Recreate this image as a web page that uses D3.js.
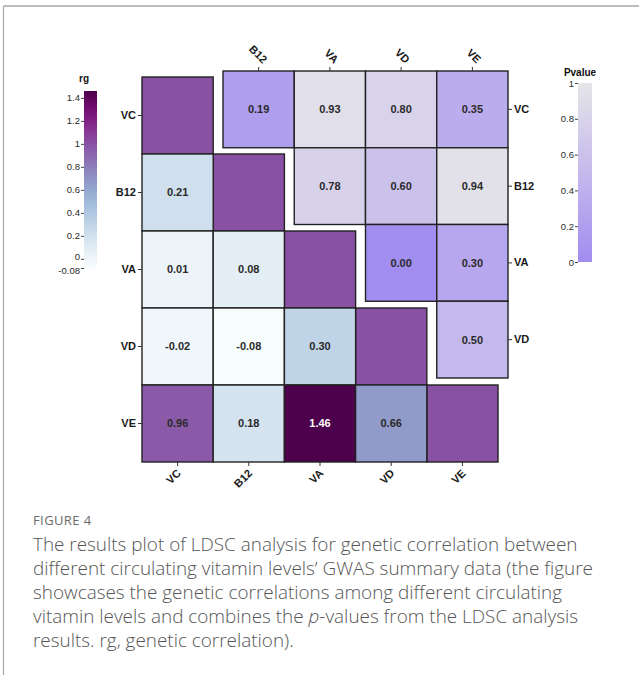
<!DOCTYPE html>
<html>
<head>
<meta charset="utf-8">
<script src="https://cdn.jsdelivr.net/npm/d3@7/dist/d3.min.js"></script>
<style>
  html, body { margin: 0; padding: 0; background: #fff; }
  svg { display: block; }
</style>
</head>
<body>
<svg id="fig" width="639" height="675"></svg>
<script>
// Traits compared in the LDSC analysis
const vitamins = ["VC", "B12", "VA", "VD", "VE"];

// Lower triangle: genetic correlation (rg), [row, column, value]
const rgPairs = [
  ["B12", "VC", 0.21],
  ["VA", "VC", 0.01], ["VA", "B12", 0.08],
  ["VD", "VC", -0.02], ["VD", "B12", -0.08], ["VD", "VA", 0.30],
  ["VE", "VC", 0.96], ["VE", "B12", 0.18], ["VE", "VA", 1.46], ["VE", "VD", 0.66]
];
// Diagonal: self-correlation, unlabeled
const rgDiagonal = 1;

// Upper triangle: LDSC p-values, [row, column, value]
const pPairs = [
  ["VC", "B12", 0.19], ["VC", "VA", 0.93], ["VC", "VD", 0.80], ["VC", "VE", 0.35],
  ["B12", "VA", 0.78], ["B12", "VD", 0.60], ["B12", "VE", 0.94],
  ["VA", "VD", 0.00], ["VA", "VE", 0.30],
  ["VD", "VE", 0.50]
];

// Legend ticks
const rgTicks = [-0.08, 0, 0.2, 0.4, 0.6, 0.8, 1, 1.2, 1.4];
const pTicks = [0, 0.2, 0.4, 0.6, 0.8, 1];

const caption = [
  "The results plot of LDSC analysis for genetic correlation between",
  "different circulating vitamin levels\u2019 GWAS summary data (the figure",
  "showcases the genetic correlations among different circulating",
  ["vitamin levels and combines the ", {i: "p"}, "-values from the LDSC analysis"],
  "results. rg, genetic correlation)."
];

const svg = d3.select("#fig");
const FONT = "'Liberation Sans', Arial, Helvetica, sans-serif";

// Page frame
svg.append("line").attr("x1", 3.5).attr("x2", 639).attr("y1", 6).attr("y2", 6)
  .attr("stroke", "#a8a8a8").attr("stroke-width", 1.5);
svg.append("line").attr("x1", 3.5).attr("x2", 3.5).attr("y1", 6).attr("y2", 675)
  .attr("stroke", "#a8a8a8").attr("stroke-width", 1.2);

// Colour scales
const rgDomain = [-0.08, 1.46];
const rgColor = d3.scaleSequential(d3.interpolateBuPu).domain(rgDomain);
const pColor = d3.scaleLinear().domain([0, 1]).range(["#a28df0", "#e6e5e8"]);

// Positional scales
const xL = d3.scaleBand().domain(vitamins).range([142, 498]);
const yL = d3.scaleBand().domain(vitamins).range([77, 462]);
const xU = d3.scaleBand().domain(vitamins.slice(1)).range([223, 508]);
const yU = d3.scaleBand().domain(vitamins.slice(0, 4)).range([71, 378]);

const cellStroke = "#222";
// two decimals, plain hyphen for negatives
const labelFmt = v => d3.format(".2f")(v).replace("\u2212", "-");

// Lower triangle cells
const lowerCells = vitamins.map(v => ({row: v, col: v, value: rgDiagonal, diag: true}))
  .concat(rgPairs.map(([row, col, value]) => ({row, col, value, diag: false})));

const gL = svg.append("g");
gL.selectAll("rect").data(lowerCells).join("rect")
  .attr("x", d => xL(d.col)).attr("y", d => yL(d.row))
  .attr("width", xL.bandwidth()).attr("height", yL.bandwidth())
  .attr("fill", d => rgColor(d.value))
  .attr("stroke", cellStroke).attr("stroke-width", 1.4);
gL.selectAll("text").data(lowerCells.filter(d => !d.diag)).join("text")
  .attr("x", d => xL(d.col) + xL.bandwidth() / 2)
  .attr("y", d => yL(d.row) + yL.bandwidth() / 2)
  .attr("dy", "0.36em").attr("text-anchor", "middle")
  .attr("font-family", FONT).attr("font-weight", "bold").attr("font-size", 11)
  .attr("fill", d => d.value > 1.2 ? "#ffffff" : "#2a2a2a")
  .text(d => labelFmt(d.value));

// Upper triangle cells
const upperCells = pPairs.map(([row, col, value]) => ({row, col, value}));
const gU = svg.append("g");
gU.selectAll("rect").data(upperCells).join("rect")
  .attr("x", d => xU(d.col)).attr("y", d => yU(d.row))
  .attr("width", xU.bandwidth()).attr("height", yU.bandwidth())
  .attr("fill", d => pColor(d.value))
  .attr("stroke", cellStroke).attr("stroke-width", 1.4);
gU.selectAll("text").data(upperCells).join("text")
  .attr("x", d => xU(d.col) + xU.bandwidth() / 2)
  .attr("y", d => yU(d.row) + yU.bandwidth() / 2)
  .attr("dy", "0.36em").attr("text-anchor", "middle")
  .attr("font-family", FONT).attr("font-weight", "bold").attr("font-size", 11)
  .attr("fill", "#2a2a2a")
  .text(d => labelFmt(d.value));

// Axes
function styleAxis(g) {
  g.select(".domain").remove();
  g.selectAll(".tick line").attr("stroke", "#333");
  g.selectAll(".tick text").attr("font-family", FONT).attr("font-weight", "bold")
    .attr("font-size", 11).attr("fill", "#1a1a1a");
}

svg.append("g").attr("transform", "translate(142,0)")
  .call(d3.axisLeft(yL).tickSize(4).tickPadding(2)).call(styleAxis);

svg.append("g").attr("transform", "translate(508,0)")
  .call(d3.axisRight(yU).tickSize(4).tickPadding(2)).call(styleAxis);

const bottomAx = svg.append("g").attr("transform", "translate(0,462)")
  .call(d3.axisBottom(xL).tickSize(4)).call(styleAxis);
bottomAx.selectAll(".tick text")
  .attr("text-anchor", "end").attr("dy", null).attr("y", 0)
  .attr("transform", "translate(4,12) rotate(-45)");

const topAx = svg.append("g").attr("transform", "translate(0,71)")
  .call(d3.axisTop(xU).tickSize(4)).call(styleAxis);
topAx.selectAll(".tick text")
  .attr("text-anchor", "end").attr("dy", null).attr("y", 0)
  .attr("transform", "translate(4,-7) rotate(45)");

// rg colour bar legend
const rgBar = {x: 84, w: 13, top: 91, bottom: 268};
const rgY = d3.scaleLinear().domain(rgDomain).range([rgBar.bottom, rgBar.top]);
const defs = svg.append("defs");
const gradRg = defs.append("linearGradient").attr("id", "gradRg")
  .attr("x1", 0).attr("y1", 1).attr("x2", 0).attr("y2", 0);
d3.range(0, 1.0001, 0.05).forEach(t => {
  gradRg.append("stop").attr("offset", t)
    .attr("stop-color", rgColor(rgDomain[0] + t * (rgDomain[1] - rgDomain[0])));
});
svg.append("rect").attr("x", rgBar.x).attr("y", rgBar.top)
  .attr("width", rgBar.w).attr("height", rgBar.bottom - rgBar.top)
  .attr("fill", "url(#gradRg)");
const rgAx = svg.append("g").attr("transform", `translate(${rgBar.x},0)`)
  .call(d3.axisLeft(rgY).tickValues(rgTicks).tickSize(3).tickPadding(1)
    .tickFormat(d => d === -0.08 ? "-0.08" : d3.format("")(d)));
rgAx.select(".domain").remove();
rgAx.selectAll(".tick line").attr("stroke", "#444");
rgAx.selectAll(".tick text").attr("font-family", FONT).attr("font-size", 9.5).attr("fill", "#2a2a2a");
// keep "0" and "-0.08" from colliding
rgAx.selectAll(".tick").filter(d => d === 0).select("text").attr("dy", "0.1em");
rgAx.selectAll(".tick").filter(d => d === -0.08).select("text").attr("dy", "0.55em");
svg.append("text").attr("x", rgBar.x).attr("y", 82).attr("text-anchor", "middle")
  .attr("font-family", FONT).attr("font-weight", "bold").attr("font-size", 10)
  .attr("fill", "#111").text("rg");

// P-value colour bar legend
const pBar = {x: 578, w: 14, top: 83, bottom: 262};
const pY = d3.scaleLinear().domain([0, 1]).range([pBar.bottom, pBar.top]);
const gradP = defs.append("linearGradient").attr("id", "gradP")
  .attr("x1", 0).attr("y1", 1).attr("x2", 0).attr("y2", 0);
[0, 0.5, 1].forEach(t => gradP.append("stop").attr("offset", t).attr("stop-color", pColor(t)));
svg.append("rect").attr("x", pBar.x).attr("y", pBar.top)
  .attr("width", pBar.w).attr("height", pBar.bottom - pBar.top)
  .attr("fill", "url(#gradP)");
const pAx = svg.append("g").attr("transform", `translate(${pBar.x},0)`)
  .call(d3.axisLeft(pY).tickValues(pTicks).tickSize(3).tickPadding(1).tickFormat(d3.format("")));
pAx.select(".domain").remove();
pAx.selectAll(".tick line").attr("stroke", "#444");
pAx.selectAll(".tick text").attr("font-family", FONT).attr("font-size", 9.5).attr("fill", "#2a2a2a");
svg.append("text").attr("x", 580).attr("y", 76).attr("text-anchor", "middle")
  .attr("font-family", FONT).attr("font-weight", "bold").attr("font-size", 10)
  .attr("fill", "#111").text("Pvalue");

// Caption
const CAP_FONT = "'Open Sans', Lato, sans-serif";
svg.append("text").attr("x", 33).attr("y", 525)
  .attr("font-family", CAP_FONT).attr("font-size", 13).attr("letter-spacing", 0.4)
  .attr("fill", "#6a6a6a").text("FIGURE 4");

const capG = svg.append("g").attr("font-family", CAP_FONT).attr("fill", "#555")
  .attr("font-weight", 300);
caption.forEach((line, i) => {
  const t = capG.append("text").attr("x", 33).attr("y", 551 + i * 24).attr("font-size", 16);
  const parts = Array.isArray(line) ? line : [line];
  parts.forEach(p => {
    if (typeof p === "string") t.append("tspan").text(p);
    else t.append("tspan").attr("font-style", "italic").text(p.i);
  });
});
// fit the first caption line to its measured width
const first = capG.select("text").node();
const w = first.getComputedTextLength();
const fs = 16 * 545 / w;
capG.selectAll("text").attr("font-size", fs);
</script>
</body>
</html>
